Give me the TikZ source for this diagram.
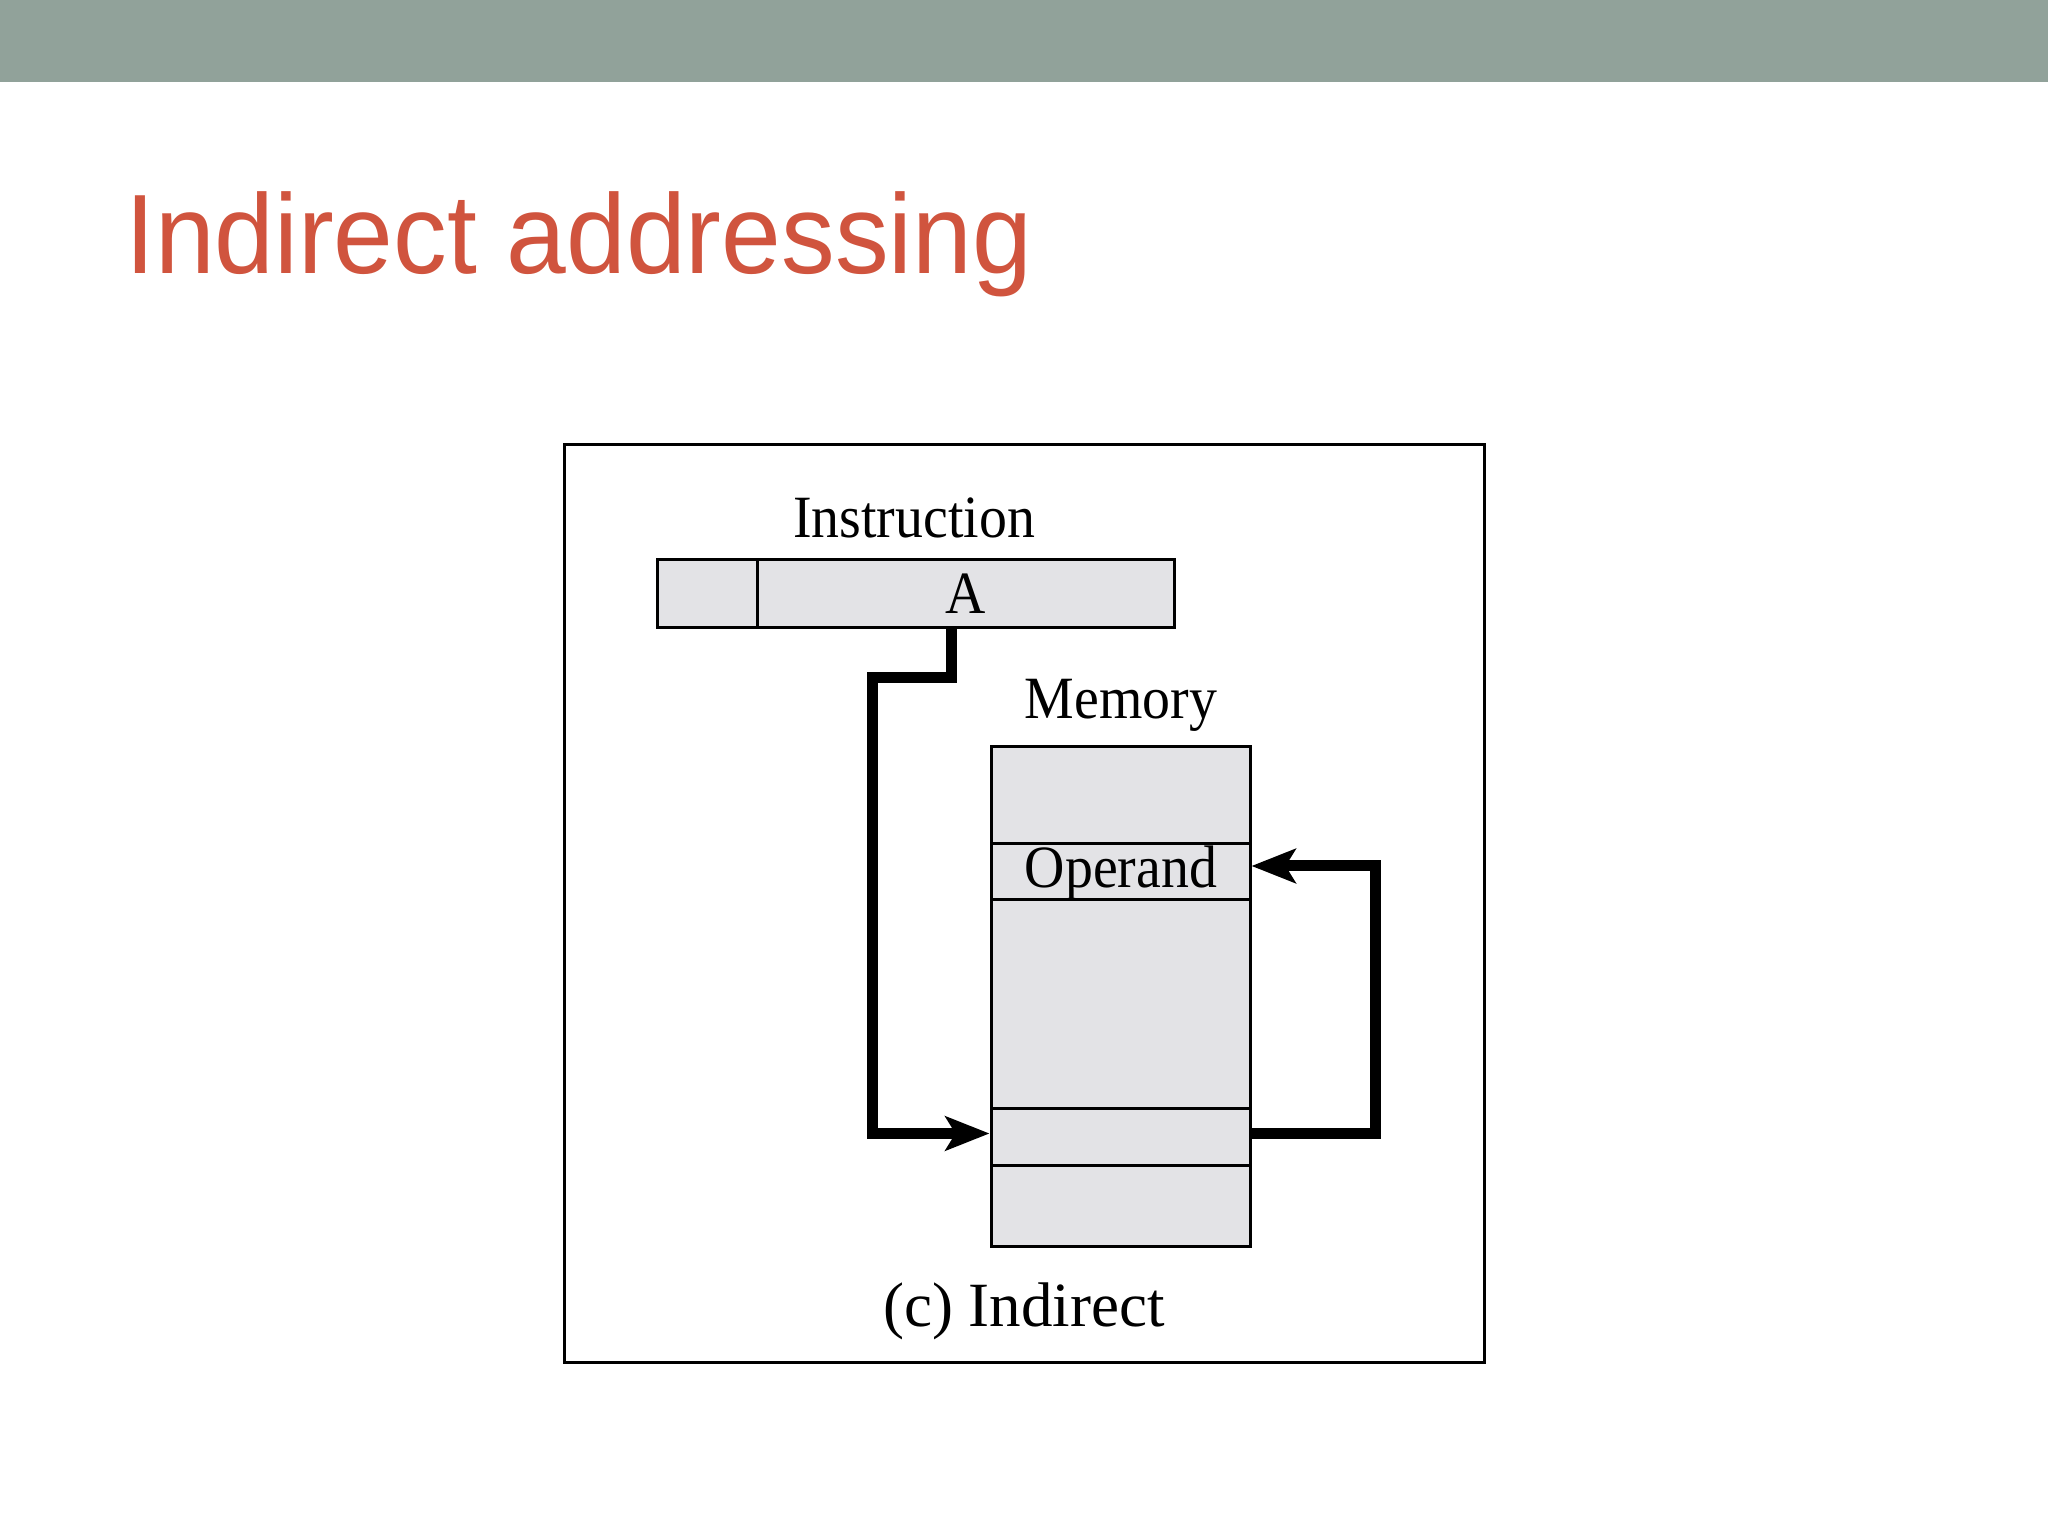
\documentclass[tikz,border=0pt]{standalone}
\usepackage{fontspec}
\setmainfont{Liberation Serif}
\newfontfamily\titlefont[FakeStretch=0.95]{Liberation Sans}
\newfontfamily\labelfont[FakeStretch=0.93]{Liberation Serif}
\usetikzlibrary{calc,positioning,arrows.meta}
\definecolor{bargray}{RGB}{145,162,154}
\definecolor{titlered}{RGB}{208,84,62}
\definecolor{cellgray}{RGB}{227,227,230}

\begin{document}
\begin{tikzpicture}[x=1pt, y=1pt,
		cell/.style={draw, line width=3pt, fill=cellgray, inner sep=0pt, minimum width=259},
		field/.style={draw, line width=3pt, fill=cellgray, inner sep=0pt, minimum height=68},
		lbl/.style={font=\labelfont\fontsize{60}{66}\selectfont, inner sep=0pt},
		ptr/.style={line width=11pt, line join=miter, -{Stealth[length=44pt, width=34pt, inset=10pt]}}]
		
		\useasboundingbox (0,0) rectangle (2048,1536);
		
		%------------------------------------------------
		% Slide header
		%------------------------------------------------
		\fill[bargray] (0,1454) rectangle (2048,1536);
		\node[anchor=base west, inner sep=0pt, text=titlered, font=\titlefont\fontsize{113}{120}\selectfont] (title) at (125,1262) {Indirect addressing};
		
		%------------------------------------------------
		% Frame
		%------------------------------------------------
		\draw[line width=3pt] (564,173) rectangle (1484,1091);
		
		%------------------------------------------------
		% Instruction
		%------------------------------------------------
		\node[field, minimum width=100] (opcode) at (707,942) {};
		\node[field, minimum width=417] (addr) at (965.5,942) {\labelfont\fontsize{60}{66}\selectfont A};
		\node[lbl] (instr) at (914,1018) {Instruction};
		
		%------------------------------------------------
		% Memory
		%------------------------------------------------
		\node[lbl] (memlbl) at (1121,831) {Memory};
		\node[cell, minimum height=97] (m1) at (1120.5,740.5) {};
		\node[cell, minimum height=56] (operand) at (1120.5,664) {};
		\node[lbl] (optext) at (1121,663) {Operand};
		\node[cell, minimum height=209] (m3) at (1120.5,531.5) {};
		\node[cell, minimum height=57] (pointer) at (1120.5,398.5) {};
		\node[cell, minimum height=81] (m5) at (1120.5,329.5) {};
		
		\node[font=\fontsize{63}{70}\selectfont, inner sep=0pt] (caption) at (1024,225) {(c) Indirect};
		
		%------------------------------------------------
		% Pointers
		%------------------------------------------------
		\draw[ptr] (addr.south -| 951,0) |- (872,858) |- ($(pointer.west)+(0,4)$);
		\draw[ptr] ($(pointer.east)+(0,4)$) -| (1375,670) -- ($(operand.east)+(0,6)$);
		
	\end{tikzpicture}
\end{document}
